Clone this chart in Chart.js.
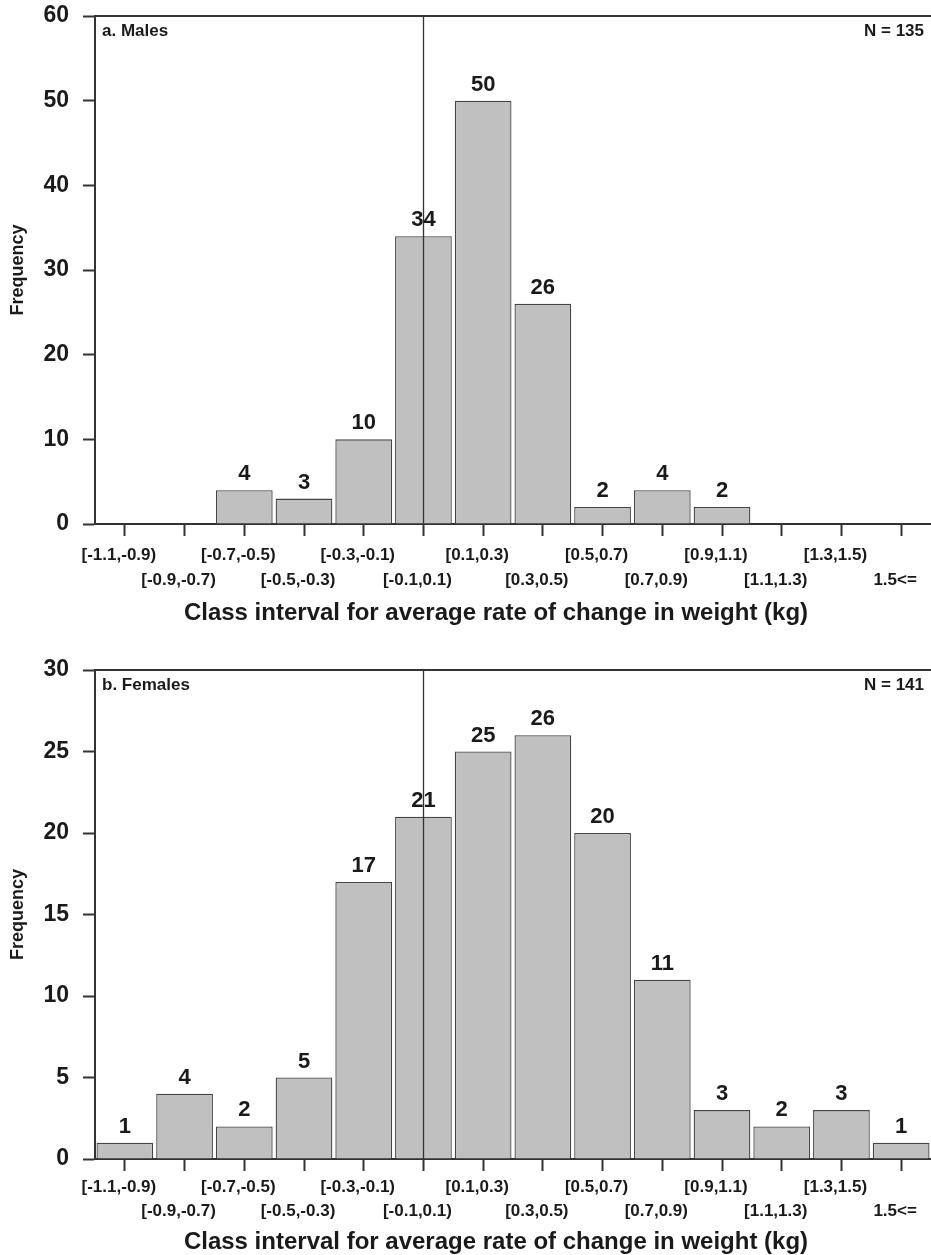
<!DOCTYPE html>
<html>
<head>
<meta charset="utf-8">
<script src="https://cdn.jsdelivr.net/npm/chart.js@4.4.1/dist/chart.umd.min.js"></script>
<style>
  body { margin: 0; background: #fff; overflow: hidden; }
  .wrap { position: absolute; left: 0; width: 931px; }
  #males-wrap { top: -14px; height: 654px; }
  #females-wrap { top: 640px; height: 615px; }
</style>
</head>
<body>
<div class="wrap" id="males-wrap"><canvas id="chart-males" width="931" height="654"></canvas></div>
<div class="wrap" id="females-wrap"><canvas id="chart-females" width="931" height="615"></canvas></div>
<script>
// Class intervals (kg)
const CLASSES = ["[-1.1,-0.9)", "[-0.9,-0.7)", "[-0.7,-0.5)", "[-0.5,-0.3)", "[-0.3,-0.1)", "[-0.1,0.1)",
	"[0.1,0.3)", "[0.3,0.5)", "[0.5,0.7)", "[0.7,0.9)", "[0.9,1.1)", "[1.1,1.3)", "[1.3,1.5)", "1.5<="];

// Frequencies
const MALES = [0, 0, 4, 3, 10, 34, 50, 26, 2, 4, 2, 0, 0, 0];
const FEMALES = [1, 4, 2, 5, 17, 21, 25, 26, 20, 11, 3, 2, 3, 1];

// Y ticks
const MALES_MAX = 60;
const MALES_STEP = 10;
const FEMALES_MAX = 30;
const FEMALES_STEP = 5;

const MALES_TITLE = "a. Males";
const MALES_N = "N = 135";
const FEMALES_TITLE = "b. Females";
const FEMALES_N = "N = 141";
const X_TITLE = "Class interval for average rate of change in weight (kg)";

const ZERO_CLASS = 5; // [-0.1,0.1) -> vertical reference line

const FONT = "'Liberation Sans', Arial, Helvetica, sans-serif";
const INK = "#1a1a1a";
const AXIS = "#333";

// Frame line on top, reference line at zero, value labels, panel texts
const histPlugin = {
	id: "hist",
	afterDatasetsDraw(chart, args, opts) {
		const { ctx, chartArea } = chart;
		const x = chart.scales.x;
		ctx.save();
		ctx.strokeStyle = AXIS;
		ctx.lineWidth = 2;
		ctx.beginPath();
		ctx.moveTo(chartArea.left, chartArea.top);
		ctx.lineTo(chartArea.right, chartArea.top);
		ctx.stroke();

		const zx = Math.round(x.getPixelForValue(ZERO_CLASS)) + 0.5;
		ctx.lineWidth = 1.3;
		ctx.beginPath();
		ctx.moveTo(zx, chartArea.top);
		ctx.lineTo(zx, chartArea.bottom);
		ctx.stroke();

		// value labels
		const meta = chart.getDatasetMeta(0);
		const data = chart.data.datasets[0].data;
		ctx.fillStyle = INK;
		ctx.font = `bold 22px ${FONT}`;
		ctx.textAlign = "center";
		ctx.textBaseline = "bottom";
		meta.data.forEach((bar, i) => {
			if (data[i] > 0) ctx.fillText(String(data[i]), bar.x, bar.y - 5);
		});

		// panel texts
		ctx.font = `bold 17px ${FONT}`;
		ctx.textBaseline = "middle";
		ctx.textAlign = "left";
		ctx.fillText(opts.title, chartArea.left + 7, chartArea.top + 15);
		ctx.textAlign = "right";
		ctx.fillText(opts.n, chartArea.right - 7, chartArea.top + 15);

		// x axis title
		ctx.font = `bold 24px ${FONT}`;
		ctx.textAlign = "center";
		ctx.fillText(X_TITLE, (chartArea.left + chartArea.right) / 2 - 17, chartArea.bottom + opts.titleY);
		ctx.restore();
	},
};

const makeHist = (id, values, yMax, yStep, p) => {
	const canvas = document.getElementById(id);
	const H = canvas.height;
	return new Chart(canvas, {
		type: "bar",
		data: {
			labels: CLASSES,
			datasets: [{
				data: values,
				backgroundColor: "#c0c0c0",
				borderColor: "#444",
				borderWidth: 1.3,
				barPercentage: 0.95,
				categoryPercentage: 1,
			}],
		},
		plugins: [histPlugin],
		options: {
			responsive: false,
			animation: false,
			devicePixelRatio: 1,
			layout: { padding: { top: p.top, left: 0, right: 0, bottom: 0 } },
			plugins: {
				legend: { display: false },
				tooltip: { enabled: false },
				hist: { title: p.title, n: p.n, titleY: p.titleY },
			},
			scales: {
				x: {
					offset: true,
					border: { display: true, color: AXIS, width: 2 },
					grid: {
						offset: false,
						drawOnChartArea: false,
						drawTicks: true,
						tickLength: 12,
						tickColor: AXIS,
						tickWidth: 2,
					},
					ticks: {
						autoSkip: false,
						maxRotation: 0,
						minRotation: 0,
						labelOffset: -6,
						padding: p.tickPad,
						color: INK,
						font: { family: FONT, size: 17, weight: "bold", lineHeight: p.rowGap },
						callback: (v, i) => (i % 2 === 0 ? CLASSES[i] : ["", CLASSES[i]]),
					},
					afterFit: (scale) => {
						scale.height = H - p.bottom;
					},
				},
				y: {
					min: 0,
					max: yMax,
					border: { display: true, color: AXIS, width: 2 },
					grid: {
						drawOnChartArea: false,
						drawTicks: true,
						tickLength: 12,
						tickColor: AXIS,
						tickWidth: 2,
					},
					ticks: {
						stepSize: yStep,
						padding: 14,
						color: INK,
						font: { family: FONT, size: 23, weight: "bold" },
					},
					title: {
						display: true,
						text: "Frequency",
						color: INK,
						font: { family: FONT, size: 18, weight: "bold" },
						padding: { top: 7, bottom: 0 },
					},
					afterFit: (scale) => {
						scale.width = 95;
					},
				},
			},
		},
	});
};

makeHist("chart-males", MALES, MALES_MAX, MALES_STEP, {
	top: 30, bottom: 538, tickPad: 7, rowGap: 1.45, titleY: 89, title: MALES_TITLE, n: MALES_N,
});
makeHist("chart-females", FEMALES, FEMALES_MAX, FEMALES_STEP, {
	top: 30, bottom: 519, tickPad: 5, rowGap: 1.38, titleY: 83, title: FEMALES_TITLE, n: FEMALES_N,
});
</script>
</body>
</html>
